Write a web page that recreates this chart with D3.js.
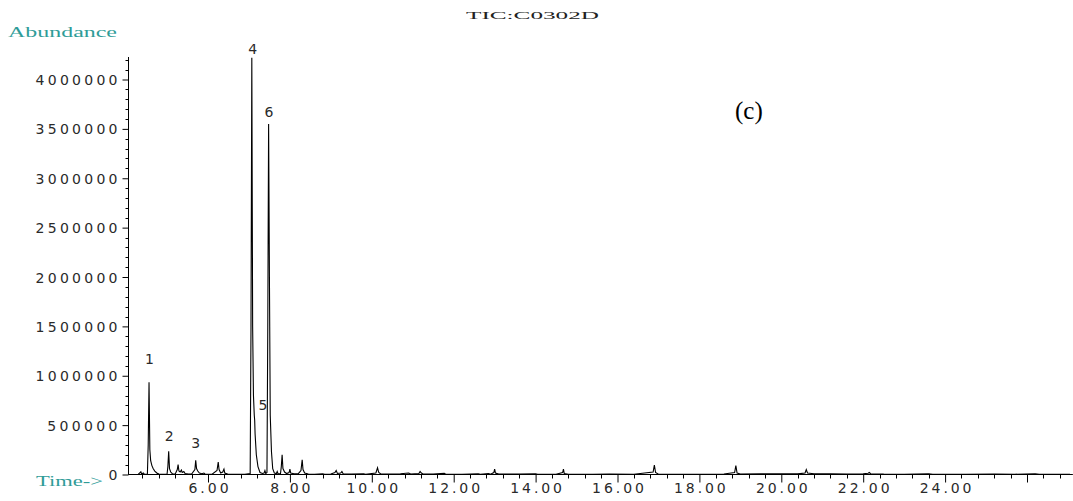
<!DOCTYPE html>
<html><head><meta charset="utf-8">
<script src="https://cdn.jsdelivr.net/npm/d3@7"></script>
<style>html,body{margin:0;padding:0;background:#fff;}svg{display:block;}</style>
</head><body>
<svg id="chart" width="1073" height="501"></svg>
<script>
// ---- data (retention time in min, abundance) ----
const rtTimes = [4.05,4.30,4.34,4.36,4.38,4.42,4.45,4.52,4.54,4.56,4.58,4.60,4.63,4.66,4.70,4.75,4.80,4.90,
5.00,5.02,5.04,5.06,5.09,5.13,5.20,5.25,5.27,5.29,5.32,5.35,5.37,5.41,5.44,5.50,5.60,5.68,5.70,5.72,5.75,5.79,5.85,5.90,5.93,
6.10,6.22,6.25,6.27,6.31,6.36,6.39,6.41,6.48,6.70,6.90,
7.03,7.05,7.07,7.09,7.11,7.13,7.14,7.15,7.18,7.22,7.27,7.33,7.37,7.39,7.41,7.44,7.46,7.48,7.50,7.52,7.55,7.58,7.62,7.67,7.69,7.71,7.77,7.79,7.81,7.83,7.87,7.92,7.98,
8.00,8.02,8.10,8.20,8.27,8.30,8.32,8.36,8.45,8.60,8.80,8.85,9.00,9.10,9.13,9.16,9.24,9.27,9.30,9.50,9.80,9.85,
10.10,10.14,10.17,10.22,10.50,10.70,10.90,10.95,11.15,11.18,11.21,11.25,11.50,11.77,11.80,12.20,12.60,12.65,12.85,12.90,12.98,
13.00,13.02,13.10,13.60,14.00,14.05,14.50,14.66,14.68,14.70,14.80,15.40,15.80,16.40,16.87,16.90,16.93,17.00,18.00,18.60,18.86,18.89,18.92,
19.00,19.50,20.00,20.40,20.58,20.61,20.64,20.80,21.20,21.60,22.00,22.12,22.15,22.18,22.50,23.00,23.60,23.70,24.50,25.20,25.70,26.20,26.30,27.05];
const abundance = [0,3000,20000,28000,5000,15000,2000,3000,300000,935000,250000,140000,90000,60000,35000,15000,4000,3000,
3000,80000,236000,60000,25000,8000,5000,50000,100000,35000,25000,45000,20000,30000,10000,6000,5000,50000,145000,60000,35000,15000,8000,15000,4000,
3000,40000,125000,50000,15000,25000,55000,15000,4000,3000,3000,
10000,1500000,4220000,1500000,800000,600000,550000,410000,200000,80000,20000,10000,15000,40000,10000,20000,1500000,3550000,2000000,600000,230000,60000,15000,10000,30000,8000,8000,80000,200000,60000,25000,10000,20000,
55000,15000,8000,6000,40000,150000,50000,15000,5000,3000,8000,3000,5000,20000,40000,10000,15000,30000,8000,4000,8000,3000,
15000,68000,20000,5000,4000,8000,15000,5000,10000,30000,15000,5000,4000,12000,5000,3000,8000,3000,10000,3000,20000,
55000,15000,4000,4000,8000,3000,3000,20000,55000,10000,3000,3000,5000,3000,25000,95000,20000,3000,3000,5000,20000,90000,15000,
5000,6000,7000,6000,15000,50000,15000,8000,6000,5000,8000,12000,20000,8000,4000,3000,6000,3000,3000,4000,3000,6000,3000,3000];

const peakNames = ["1","2","3","4","5","6"];
const peakLabelTimes = [4.571,5.05,5.70,7.09,7.34,7.49];
const peakLabelAbund = [1114000,344000,273000,4263000,658000,3625000];

const yTickValues = [0,500000,1000000,1500000,2000000,2500000,3000000,3500000,4000000];
const xTickValues = [6,8,10,12,14,16,18,20,22,24,26];
const xTickLabels = ["6.00","8.00","10.00","12.00","14.00","16.00","18.00","20.00","22.00","24.00",""];

const titleText = "TIC:C0302D";
const yAxisTitle = "Abundance";
const xAxisTitle = "Time->";
const panelTag = "(c)";

// ---- layout ----
const svg = d3.select("#chart");
const axisX0 = 128.5, axisY0 = 474.5;
const x = d3.scaleLinear().domain([6, 24]).range([208, 208 + 18 * 40.95]);
const y = d3.scaleLinear().domain([0, 4000000]).range([axisY0, axisY0 - 395]);
const xMaxT = 27.12;

const numFont = "'DejaVu Sans', sans-serif";
const teal = "#2f9c98";
function numWidth(s){ let w = 0; for (const c of s) w += (c === '.') ? 5 : 11.7; return w; }

// y axis
const yAxis = d3.axisLeft(y).tickValues(yTickValues).tickSize(6).tickFormat(d3.format("d"));
const gy = svg.append("g").attr("transform", `translate(${axisX0},0)`).call(yAxis);
gy.select(".domain").remove();
gy.selectAll(".tick line").attr("stroke", "#000");
gy.selectAll(".tick text").attr("x", -11).attr("dy", "0.36em")
  .style("font-family", numFont).style("font-size", "14px").attr("fill", "#2a2a2a")
  .each(function(d){ const s = d3.format("d")(d); d3.select(this).attr("textLength", numWidth(s)).attr("lengthAdjust", "spacing"); });
const yMinor = d3.range(0, 4200001, 100000).filter(v => v % 500000 !== 0);
svg.append("g").selectAll("line").data(yMinor).join("line")
  .attr("x1", axisX0 - 3).attr("x2", axisX0).attr("y1", d => Math.round(y(d)) + 0.5).attr("y2", d => Math.round(y(d)) + 0.5)
  .attr("stroke", "#000");
svg.append("line").attr("x1", axisX0).attr("x2", axisX0).attr("y1", 57).attr("y2", axisY0).attr("stroke", "#000");

// x axis
const xAxis = d3.axisBottom(x).tickValues(xTickValues).tickSize(8).tickFormat((d, i) => xTickLabels[i]);
const gx = svg.append("g").attr("transform", `translate(0,${axisY0})`).call(xAxis);
gx.select(".domain").remove();
gx.selectAll(".tick line").attr("stroke", "#000");
gx.selectAll(".tick text").attr("y", 0).attr("dy", null).attr("transform", "translate(0,18.5)")
  .style("font-family", numFont).style("font-size", "14px").attr("fill", "#2a2a2a")
  .each(function(d, i){ const s = xTickLabels[i]; if (s) d3.select(this).attr("textLength", numWidth(s)).attr("lengthAdjust", "spacing"); });
const xMinor = d3.range(4.4, 27.0, 0.4).filter(t => Math.abs(t / 2 - Math.round(t / 2)) > 0.01);
svg.append("g").selectAll("line").data(xMinor).join("line")
  .attr("x1", d => Math.round(x(d)) + 0.5).attr("x2", d => Math.round(x(d)) + 0.5)
  .attr("y1", axisY0).attr("y2", axisY0 + 4).attr("stroke", "#000");
svg.append("line").attr("x1", axisX0).attr("x2", x(xMaxT)).attr("y1", axisY0).attr("y2", axisY0).attr("stroke", "#000");

// trace
const pts = rtTimes.map((t, i) => [t, abundance[i]]);
const line = d3.line().x(d => x(d[0])).y(d => y(d[1]));
svg.append("path").datum(pts).attr("d", line).attr("fill", "none").attr("stroke", "#000").attr("stroke-width", 1.1);

// peak labels
svg.append("g").selectAll("text").data(peakNames).join("text")
  .attr("x", (d, i) => x(peakLabelTimes[i])).attr("y", (d, i) => y(peakLabelAbund[i]))
  .attr("text-anchor", "middle").style("font-family", numFont).style("font-size", "14px").attr("fill", "#2a2a2a")
  .text(d => d);

// titles
svg.append("text").attr("x", 466).attr("y", 19).attr("textLength", 133).attr("lengthAdjust", "spacingAndGlyphs")
  .style("font-family", "'Liberation Serif', serif").style("font-size", "11px").attr("fill", "#222").text(titleText);
svg.append("text").attr("x", 8).attr("y", 37).attr("textLength", 109).attr("lengthAdjust", "spacingAndGlyphs")
  .style("font-family", "'Liberation Serif', serif").style("font-size", "15px").attr("fill", teal).text(yAxisTitle);
svg.append("text").attr("x", 36).attr("y", 486).attr("textLength", 67).attr("lengthAdjust", "spacingAndGlyphs")
  .style("font-family", "'Liberation Serif', serif").style("font-size", "14px").attr("fill", teal).text(xAxisTitle);
svg.append("text").attr("x", 735).attr("y", 119)
  .style("font-family", "'Liberation Serif', serif").style("font-size", "25px").attr("fill", "#000").text(panelTag);
</script>
</body></html>
